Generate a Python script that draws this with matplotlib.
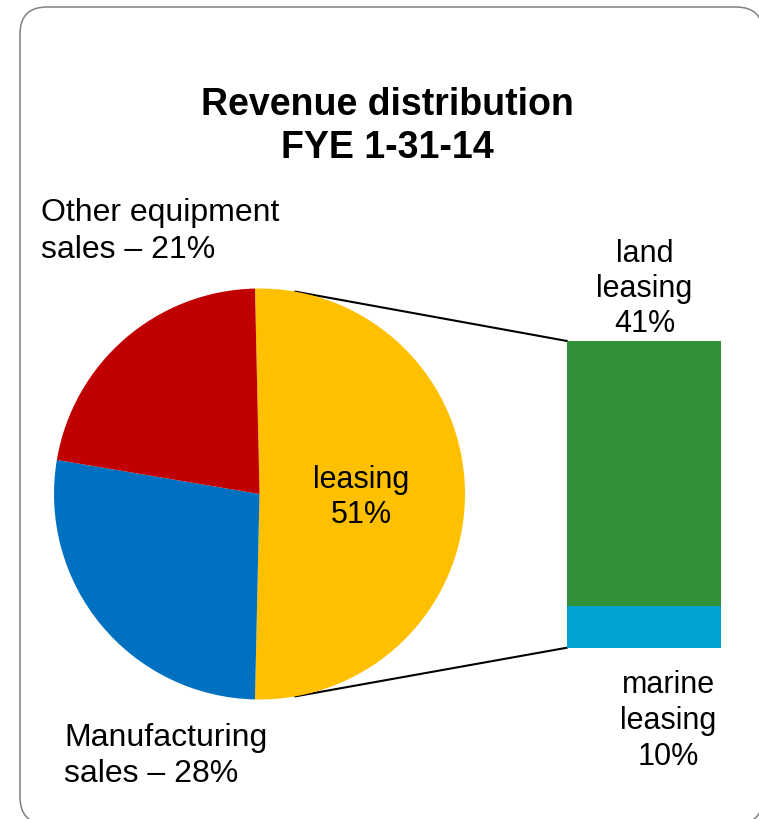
import numpy as np
import matplotlib.pyplot as plt
from matplotlib.patches import FancyBboxPatch, ConnectionPatch

plt.rcParams['font.family'] = ['Liberation Sans', 'DejaVu Sans']

# pie data (share of revenue, %, as drawn)
pie_labels = ['leasing', 'Manufacturing sales', 'Other equipment sales']
pie_values = [50.7, 27.3, 22.0]
pie_colors = ['#FFC000', '#0070C0', '#C00000']

# breakdown of leasing, bar heights as drawn (bottom -> top)
bar_labels = ['marine leasing', 'land leasing']
bar_values = [7, 44]
bar_colors = ['#03A4D2', '#31913B']

W, H = 759, 819
fig = plt.figure(figsize=(W / 100, H / 100), dpi=100)

# background axes in pixel coords, for the frame
bg = fig.add_axes([0, 0, 1, 1], zorder=0)
bg.set_xlim(0, W)
bg.set_ylim(H, 0)
bg.axis('off')
frame = FancyBboxPatch((20, 7), 743, 817, boxstyle='round,pad=0,rounding_size=27',
                       fc='white', ec='#808080', lw=1.1)
bg.add_patch(frame)

## pie
cx, cy, r = 259.5, 494, 205.5
ax1 = fig.add_axes([(cx - r) / W, (H - cy - r) / H, 2 * r / W, 2 * r / H], zorder=1)
ax1.pie(pie_values, colors=pie_colors, startangle=90 + 1.26, counterclock=False,
        wedgeprops=dict(linewidth=0))
ax1.set_xlim(-1, 1)
ax1.set_ylim(-1, 1)
ax1.axis('off')

## stacked bar
bx0, bx1, by0, by1 = 567, 720.7, 341, 647.7
ax2 = fig.add_axes([bx0 / W, (H - by1) / H, (bx1 - bx0) / W, (by1 - by0) / H], zorder=1)
bottom = 0
for v, c in zip(bar_values, bar_colors):
    ax2.bar(0, v, width=1, bottom=bottom, color=c, align='edge', linewidth=0)
    bottom += v
ax2.set_xlim(0, 1)
ax2.set_ylim(0, sum(bar_values))
ax2.axis('off')

# connector lines
ang = np.deg2rad(80)
for sgn, yb in [(1, sum(bar_values)), (-1, 0)]:
    con = ConnectionPatch(xyA=(0, yb), coordsA=ax2.transData,
                          xyB=(np.cos(ang), sgn * np.sin(ang)), coordsB=ax1.transData,
                          color='black', lw=1.5)
    fig.add_artist(con)

## texts on a transparent overlay
top = fig.add_axes([0, 0, 1, 1], zorder=5)
top.set_xlim(0, W)
top.set_ylim(H, 0)
top.axis('off')
top.patch.set_alpha(0)

def put(x, y, lines, size, ha='center', weight='normal', gap=35):
    for i, s in enumerate(lines):
        top.text(x, y + i * gap, s, ha=ha, va='baseline', fontsize=size,
                 fontweight=weight, color='black')

put(387.5, 115, ['Revenue distribution', 'FYE 1-31-14'], 27, weight='bold', gap=43.5)
put(41, 221.5, ['Other equipment', 'sales \u2013 21%'], 23, ha='left', gap=36.5)
put(64, 746, ['Manufacturing', 'sales \u2013 28%'], 23, ha='left', gap=36.5)
put(361.5, 488, ['leasing', '51%'], 22, gap=35)
put(644.5, 261.5, ['land', 'leasing', '41%'], 22, gap=35)
put(668.5, 693, ['marine', 'leasing', '10%'], 22, gap=36)

fig.savefig('out.png', dpi=100)
